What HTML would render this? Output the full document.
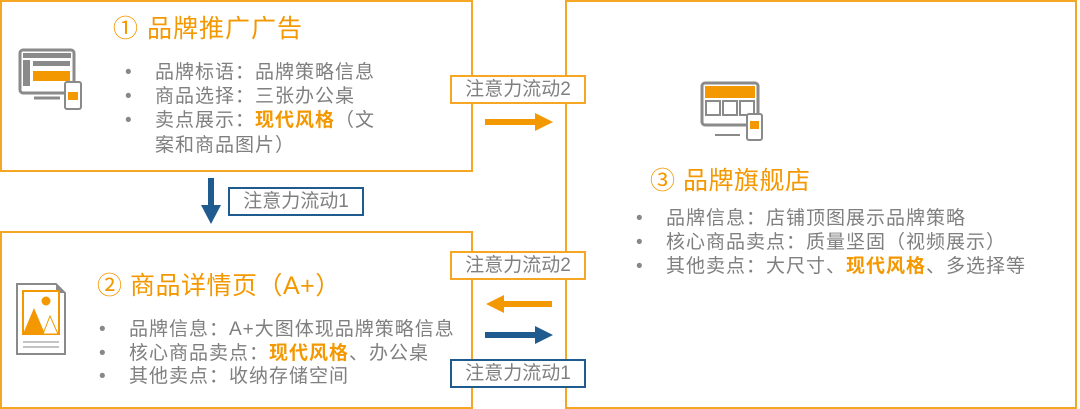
<!DOCTYPE html>
<html><head><meta charset="utf-8"><style>
body{margin:0;width:1080px;height:409px;background:#fff;position:relative;overflow:hidden;font-family:"Liberation Sans","Noto Sans CJK SC",sans-serif;color:#7f7f7f}
.box{position:absolute;border:2px solid #f5a623;box-sizing:border-box}
.t{position:absolute;font-size:25px;color:#f39800;white-space:nowrap;line-height:30px}
.l{position:absolute;font-size:19px;letter-spacing:1px;white-space:nowrap;line-height:24.2px}
.l div{position:relative}
.l div.b::before{content:"•";position:absolute;left:-30px;color:#888}
.o{color:#f39800;font-weight:bold}
.lab{position:absolute;background:#fff;font-size:19px;line-height:25px;text-align:center;box-sizing:border-box;color:#7f7f7f;white-space:nowrap}
</style></head><body>
<div class="box" style="left:0;top:0;width:473px;height:172px"></div>
<div class="box" style="left:0;top:231px;width:473px;height:178px"></div>
<div class="box" style="left:565px;top:0;width:512px;height:409px"></div>

<div class="t" style="left:113px;top:14px;letter-spacing:1px">① 品牌推广广告</div>
<div class="l" style="left:155px;top:61px"><div class="b">品牌标语：品牌策略信息</div><div class="b">商品选择：三张办公桌</div><div class="b">卖点展示：<span class="o">现代风格</span>（文</div><div>案和商品图片）</div></div>

<div class="t" style="left:97px;top:271px;letter-spacing:0.5px">② 商品详情页（A+）</div>
<div class="l" style="left:129px;top:318px;line-height:23.5px"><div class="b">品牌信息：A+大图体现品牌策略信息</div><div class="b">核心商品卖点：<span class="o">现代风格</span>、办公桌</div><div class="b">其他卖点：收纳存储空间</div></div>

<div class="t" style="left:650px;top:166px;letter-spacing:0.5px">③ 品牌旗舰店</div>
<div class="l" style="left:666px;top:207px"><div class="b">品牌信息：店铺顶图展示品牌策略</div><div class="b">核心商品卖点：质量坚固（视频展示）</div><div class="b">其他卖点：大尺寸、<span class="o">现代风格</span>、多选择等</div></div>

<div class="lab" style="left:450px;top:75px;width:136px;height:29px;border:2px solid #f5a623">注意力流动2</div>
<div class="lab" style="left:228px;top:187px;width:136px;height:29px;border:2px solid #1f5b8f">注意力流动1</div>
<div class="lab" style="left:450px;top:251px;width:136px;height:29px;border:2px solid #f5a623">注意力流动2</div>
<div class="lab" style="left:450px;top:359px;width:136px;height:29px;border:2px solid #1f5b8f">注意力流动1</div>

<svg style="position:absolute;left:0;top:0" width="1080" height="409">
<polygon points="485,119 535,119 535,113 553,122 535,131 535,125 485,125" fill="#f39800"/>
<polygon points="208,178 214,178 214,205 221,205 211,224 201,205 208,205" fill="#1f5b8f"/>
<polygon points="552,301 504,301 504,295 486,304 504,313 504,307 552,307" fill="#f39800"/>
<polygon points="485,332 535,332 535,326 553,335 535,344 535,338 485,338" fill="#1f5b8f"/>
<rect x="20" y="50" width="54" height="43" rx="3" fill="#fff" stroke="#8a8a8a" stroke-width="3"/>
<rect x="23" y="53" width="48" height="5" fill="#8a8a8a"/>
<rect x="23" y="60" width="7" height="26" fill="#8a8a8a"/>
<rect x="33" y="61" width="37" height="5" fill="#8a8a8a"/>
<rect x="33" y="71" width="37" height="10" fill="#f39800"/>
<line x1="34" y1="98" x2="60" y2="98" stroke="#8a8a8a" stroke-width="3"/>
<rect x="65" y="82" width="16" height="27" rx="2" fill="#fff" stroke="#8a8a8a" stroke-width="2"/>
<rect x="68" y="92" width="10" height="8" fill="#f39800"/>
<rect x="702" y="83" width="56" height="42" rx="3" fill="#fff" stroke="#8a8a8a" stroke-width="3"/>
<rect x="705" y="86" width="50" height="12" fill="#f39800"/>
<rect x="706" y="101" width="14" height="14" fill="none" stroke="#8a8a8a" stroke-width="2"/>
<rect x="723" y="101" width="14" height="14" fill="none" stroke="#8a8a8a" stroke-width="2"/>
<rect x="740" y="101" width="14" height="14" fill="none" stroke="#8a8a8a" stroke-width="2"/>
<line x1="715" y1="135" x2="740" y2="135" stroke="#8a8a8a" stroke-width="2"/>
<rect x="747" y="114" width="15" height="26" rx="2" fill="#fff" stroke="#8a8a8a" stroke-width="2"/>
<rect x="750" y="121" width="9" height="8" fill="#f39800"/>
<path d="M17,284 H56 L65,293 V354 H17 Z" fill="#fff" stroke="#8a8a8a" stroke-width="2"/>
<path d="M56,284 L65,293 H56 Z" fill="#8a8a8a"/>
<rect x="23" y="291" width="36" height="43" fill="#fff" stroke="#f39800" stroke-width="2"/>
<circle cx="46" cy="301" r="4.5" fill="#f39800"/>
<polygon points="23,334 34,308 45,334" fill="#f39800"/>
<polygon points="43,334 50,316 58,334" fill="#fff" stroke="#f39800" stroke-width="1"/>
<line x1="23" y1="342" x2="59" y2="342" stroke="#8a8a8a"/>
<line x1="23" y1="347" x2="59" y2="347" stroke="#8a8a8a"/>
</svg>
</body></html>
